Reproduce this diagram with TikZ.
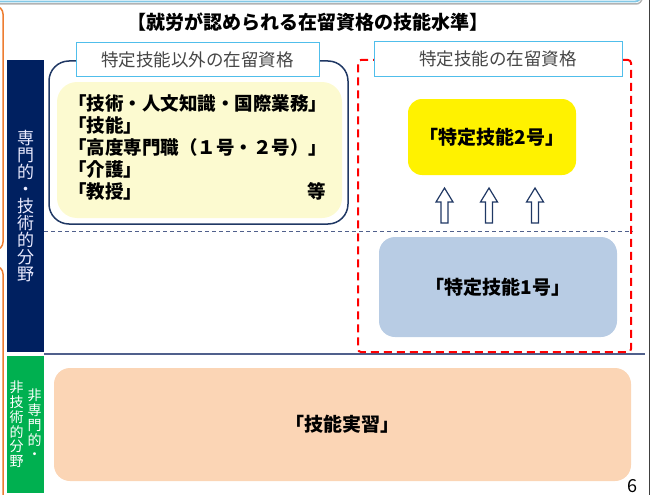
\documentclass[tikz,border=0pt]{standalone}
\usepackage{fontspec}
\setmainfont{Noto Sans CJK JP}
\usetikzlibrary{calc}
\definecolor{navypanel}{RGB}{0,32,96}
\definecolor{greenpanel}{RGB}{0,176,80}
\definecolor{outlinenavy}{RGB}{32,56,100}
\definecolor{labelcyan}{RGB}{80,190,235}
\definecolor{paleyellow}{RGB}{252,250,208}
\definecolor{lightblue}{RGB}{184,204,228}
\definecolor{peach}{RGB}{251,213,181}
\definecolor{orangec}{RGB}{237,125,49}
\definecolor{labelgray}{RGB}{70,70,70}
\definecolor{dashnavy}{RGB}{80,96,140}
\definecolor{topbar}{RGB}{130,200,230}
\tikzset{
  labelbox/.style={draw=labelcyan, line width=1pt, fill=white, text=labelgray,
    font=\fontsize{17.5}{20}\selectfont, inner sep=0pt},
  sidepanel/.style={inner sep=0pt, minimum width=37pt},
  vtext/.style={align=center, inner sep=0pt, text=white},
  itembox/.style={inner sep=0pt, font=\bfseries\fontsize{19}{22}\selectfont},
  hollowup/.pic={\draw[outlinenavy, line width=1.2pt, fill=white]
    (-3.5,17.5) -- (-3.5,-3.5) -- (-8.5,-3.5) -- (0,-17.5) -- (8.5,-3.5) -- (3.5,-3.5) -- (3.5,17.5) -- cycle;}
}
\begin{document}
\begin{tikzpicture}[x=1pt,y=-1pt]
\useasboundingbox (0,0) rectangle (653,495);
% top bar (partly visible)
\draw[gray!60, line width=1.5pt, rounded corners=6pt] (-10,-30) rectangle (642,4);
\draw[topbar, line width=1.8pt, rounded corners=6pt] (-10,-30) rectangle (641,1.5);
% right edge line
\draw[black!75, line width=1pt] (649,0) -- (649,495);
% orange frames (partly visible)
\draw[orangec, line width=1.5pt, rounded corners=8pt] (-10,6) -- (3,6) -- (3,250) -- (-10,250);
\draw[orangec, line width=1.5pt, rounded corners=8pt] (-10,266) -- (3,266) -- (3,510);
% title
\node[font=\bfseries\fontsize{19}{22}\selectfont] (title) at (308,22) {【就労が認められる在留資格の技能水準】};
% side panels
\node[sidepanel, fill=navypanel, minimum height=292pt] (senmon) at (25.5,206) {};
\node[vtext, font=\fontsize{17}{16.9}\selectfont, text=white!92!blue] (senmontxt) at (senmon.center)
  {専\\門\\的\\・\\技\\術\\的\\分\\野};
\node[sidepanel, fill=greenpanel, minimum height=137pt] (hisenmon) at (25.5,424.5) {};
\node[vtext, font=\fontsize{14}{14.8}\selectfont] (hisenR) at (34.5,424.5) {非\\専\\門\\的\\・};
\node[vtext, font=\fontsize{14}{14.8}\selectfont] (hisenL) at (16.5,424.5) {非\\技\\術\\的\\分\\野};
% separators
\coordinate (dashL) at (44,231);
\coordinate (dashR) at (633,231);
\draw[dashnavy, line width=1pt, dash pattern=on 4pt off 3pt] (dashL) -- (dashR);
\coordinate (solL) at (44,354);
\coordinate (solR) at (645,354);
\draw[dashnavy, line width=1.5pt] (solL) -- (solR);
% left group outline
\node[draw=outlinenavy, line width=1.5pt, rounded corners=20pt, minimum width=299pt, minimum height=163pt, inner sep=0pt] (grpA) at (198.5,142.5) {};
\node[fill=paleyellow, rounded corners=20pt, minimum width=285pt, minimum height=136pt, inner sep=0pt] (others) at (199.5,150) {};
\node[itembox, font=\bfseries\fontsize{18.5}{22.2}\selectfont, text width=258pt, align=left, anchor=west] (otherstxt) at (68,147.5)
  {「技術・人文知識・国際業務」\\「技能」\\「高度専門職（１号・２号）」\\「介護」\\「教授」\hfill 等};
\node[labelbox, minimum width=243pt, minimum height=33pt] (labA) at (197.5,59.5) {特定技能以外の在留資格};
% right group
\node[draw=red, line width=2pt, dash pattern=on 8pt off 5pt, rounded corners=3pt, minimum width=273pt, minimum height=292pt, inner sep=0pt] (grpB) at (494.5,206) {};
\node[labelbox, minimum width=248pt, minimum height=34pt] (labB) at (498,59) {特定技能の在留資格};
\node[itembox, fill=yellow, rounded corners=14pt, minimum width=168pt, minimum height=76pt] (tok2) at (492,137) {「特定技能2号」};
\node[itembox, fill=lightblue, rounded corners=16pt, minimum width=238pt, minimum height=100pt] (tok1) at (498,287) {「特定技能1号」};
\pic at (444.5,205.5) {hollowup};
\pic at (489,205.5) {hollowup};
\pic at (535,205.5) {hollowup};
% bottom
\node[itembox, fill=peach, rounded corners=16pt, minimum width=577pt, minimum height=113pt] (jisshu) at (342.5,424.5) {「技能実習」};
\node[font=\fontsize{18}{20}\selectfont, inner sep=0pt, anchor=south] (pageno) at (632,493) {6};
\end{tikzpicture}
\end{document}
